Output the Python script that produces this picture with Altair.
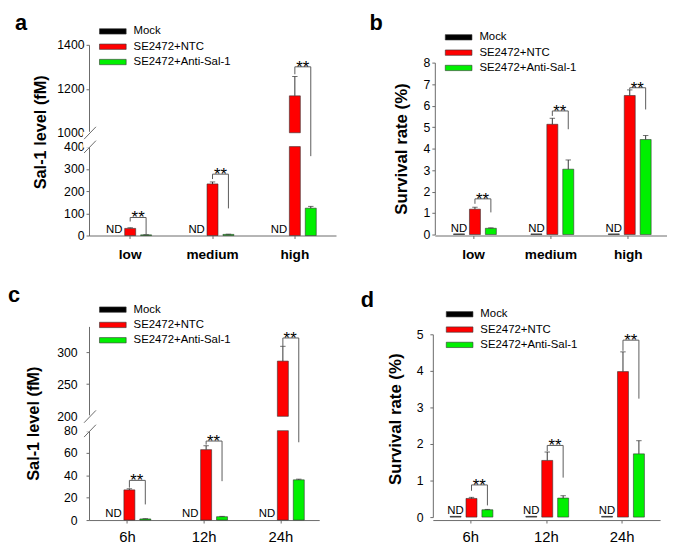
import altair as alt
import pandas as pd

FONT = "Liberation Sans"
AX = "#6a6a6a"

groups = ["Mock", "SE2472+NTC", "SE2472+Anti-Sal-1"]
group_colors = ["#000000", "#FF0000", "#00F000"]

dose_levels = ["low", "medium", "high"]
time_points = ["6h", "12h", "24h"]

# Panel a: Sal-1 level (fM) by dose
a_mock = [0, 0, 0]
a_ntc = [32, 232, 1168]
a_ntc_err = [3, 9, 88]
a_anti = [3, 5, 123]
a_anti_err = [0.5, 1, 8]
a_br_top = [81, 276, 1300]
a_br_left = [63, 254, 1266]
a_br_right = [4, 122, 357]
a_ticks = [0, 100, 200, 300, 400, 1000, 1200, 1400]

# Panel b: survival rate (%) by dose
b_mock = [0.03, 0.03, 0.03]
b_ntc = [1.18, 5.13, 6.47]
b_ntc_err = [0.09, 0.28, 0.26]
b_anti = [0.29, 3.04, 4.42]
b_anti_err = [0.02, 0.43, 0.19]
b_br_top = [1.66, 5.75, 6.83]
b_br_left = [1.43, 5.52, 6.74]
b_br_right = [1.03, 4.9, 5.82]
b_ticks = [0, 1, 2, 3, 4, 5, 6, 7, 8]

# Panel c: Sal-1 level (fM) by time
c_mock = [0, 0, 0]
c_ntc = [27, 63, 286]
c_ntc_err = [1, 3.5, 23]
c_anti = [1, 3, 36]
c_anti_err = [0.2, 0.3, 0.6]
c_br_top = [35.5, 70.7, 322]
c_br_left = [29, 67.5, 309]
c_br_right = [14, 34.8, 69.6]
c_ticks = [0, 20, 40, 60, 80, 200, 250, 300]

# Panel d: survival rate (%) by time
d_mock = [0.02, 0.02, 0.02]
d_ntc = [0.51, 1.55, 3.98]
d_ntc_err = [0.03, 0.23, 0.54]
d_anti = [0.2, 0.52, 1.73]
d_anti_err = [0.01, 0.065, 0.36]
d_br_top = [0.88, 1.96, 4.84]
d_br_left = [0.72, 1.8, 4.55]
d_br_right = [0.32, 1.08, 3.24]
d_ticks = [0, 1, 2, 3, 4, 5]

SYM_SIDE = 10.8  # sqrt(symbol size)


def make_panel(letter, letter_xy, cats, mock, ntc, ntc_err, anti, anti_err, br_top, br_left, br_right,
               ytitle, ytitle_size, ydomain, yrange, yticks, width, height, brk, leg_x, leg_y,
               xbold, pad_in, sub_pad, label_pad, title_pad, title_y):
    rows = []
    for i, c in enumerate(cats):
        for g, v, e in ((groups[0], mock[i], 0.0), (groups[1], ntc[i], ntc_err[i]),
                        (groups[2], anti[i], anti_err[i])):
            rows.append({"cat": c, "group": g, "value": v, "err": e})
    df = pd.DataFrame(rows)
    br_rows = []
    for i, c in enumerate(cats):
        br_rows += [
            {"cat": c, "group": groups[1], "v": br_left[i], "k": 0},
            {"cat": c, "group": groups[1], "v": br_top[i], "k": 1},
            {"cat": c, "group": groups[2], "v": br_top[i], "k": 2},
            {"cat": c, "group": groups[2], "v": br_right[i], "k": 3},
        ]
    bdf = pd.DataFrame(br_rows)
    sdf = pd.DataFrame({"cat": cats, "group": groups[1], "top": br_top})
    ndf = pd.DataFrame({"cat": cats, "group": groups[0]})

    step = width / 3.0
    sub_step = step * (1 - pad_in) / 3.0

    xs = alt.Scale(domain=cats, paddingInner=pad_in, paddingOuter=pad_in / 2)
    xax = alt.Axis(title=None, labelAngle=0, labelFontSize=13.8 if xbold else 15,
                  labelFontWeight="bold" if xbold else "normal", labelColor="black",
                  labelPadding=9 if xbold else 7, tickSize=3, domainColor=AX, tickColor=AX,
                  labelFont=FONT)
    X = alt.X("cat:N", scale=xs, axis=xax)
    XO = alt.XOffset("group:N", scale=alt.Scale(domain=groups, paddingInner=sub_pad,
                                                  paddingOuter=sub_pad / 2))
    ys = alt.Scale(domain=ydomain, range=yrange, nice=False)
    yax_kw = dict(title=ytitle, values=yticks, tickCount=40, format="d", grid=False, labelFontSize=12.4,
                  labelColor="black", labelOverlap=False, labelBound=False, labelFlush=False,
                  tickSize=3, labelPadding=label_pad, domainColor=AX, tickColor=AX,
                  titleFontSize=ytitle_size, titleFontWeight="bold", titleColor="black",
                  titlePadding=title_pad, labelFont=FONT, titleFont=FONT)
    if title_y is not None:
        yax_kw["titleY"] = title_y
    yax = alt.Axis(**yax_kw)

    def Y(f):
        return alt.Y(f"{f}:Q", scale=ys, axis=yax)

    legend = alt.Legend(title=None, orient="none", legendX=leg_x + 8.1, legendY=leg_y,
                        symbolType="M-2.5,-0.5H2.5V0.5H-2.5Z", symbolSize=SYM_SIDE ** 2,
                        symbolStrokeColor="#333333", symbolStrokeWidth=0.6,
                        labelFontSize=11.5, labelFont=FONT, labelColor="black",
                        labelOffset=15, rowPadding=3.5, padding=0, symbolOpacity=1)
    color = alt.Color("group:N", scale=alt.Scale(domain=groups, range=group_colors), legend=legend)

    lo_expr = f"min(datum.value, {brk[0]})" if brk else "datum.value"
    bars = (alt.Chart(df).transform_filter("datum.value > 0")
            .transform_calculate(lo=lo_expr)
            .mark_bar(stroke="#333333", strokeWidth=0.6, opacity=1)
            .encode(x=X, xOffset=XO, y=Y("lo"), y2=alt.datum(0), color=color))
    layers = [bars]
    if brk:
        up = (alt.Chart(df).transform_filter(f"datum.value > {brk[1]}")
              .mark_bar(stroke="#333333", strokeWidth=0.6, opacity=1)
              .encode(x=X, xOffset=XO, y=Y("value"), y2=alt.datum(brk[1]), color=color))
        layers.append(up)

    eb = alt.Chart(df).transform_filter("datum.err > 0").transform_calculate(hi="datum.value + datum.err")
    err_rule = eb.mark_rule(color="#333333", strokeWidth=1).encode(x=X, xOffset=XO, y=Y("value"), y2="hi:Q")
    cap = eb.mark_tick(color="#333333", thickness=1, size=5.5).encode(x=X, xOffset=XO, y=Y("hi"))
    br_line = alt.Chart(bdf).mark_line(color="#5a5a5a", strokeWidth=1).encode(
        x=X, xOffset=XO, y=Y("v"), detail="cat:N", order="k:Q")
    stars = alt.Chart(sdf).mark_text(text="**", fontSize=17, fontWeight="normal", baseline="alphabetic",
                                     dx=sub_step / 2, dy=6, color="black", font=FONT).encode(
        x=X, xOffset=XO, y=Y("top"))
    nd = alt.Chart(ndf).mark_text(text="ND", fontSize=11.5, baseline="alphabetic", dy=-3,
                                  color="black", font=FONT).encode(x=X, xOffset=XO, y=alt.datum(0))
    layers += [err_rule, cap, br_line, stars, nd]
    if brk:
        mdf = pd.DataFrame({"lo": [brk[0]], "hi": [brk[1]]})
        mask = alt.Chart(mdf).mark_rect(color="white", yOffset=1, y2Offset=-1).encode(
            x=alt.value(-6), x2=alt.value(3), y=Y("lo"), y2="hi:Q")
        sdf2 = pd.DataFrame({"b": list(brk)})
        slashes = alt.Chart(sdf2).mark_rule(color=AX, strokeWidth=1, yOffset=6.5, y2Offset=-6).encode(
            x=alt.value(-5), x2=alt.value(7), y=Y("b"), y2="b:Q")
        layers += [mask, slashes]

    ldf = pd.DataFrame({"t": [letter]})
    lab = alt.Chart(ldf).mark_text(fontSize=22, fontWeight="bold", align="left", baseline="alphabetic",
                                   color="black", font=FONT).encode(
        text="t:N", x=alt.value(letter_xy[0]), y=alt.value(letter_xy[1]))
    layers.append(lab)

    return alt.layer(*layers).properties(width=width, height=height)


pa = make_panel("a", (-75, -15.4), dose_levels, a_mock, a_ntc, a_ntc_err, a_anti, a_anti_err, a_br_top,
                a_br_left, a_br_right, "Sal-1 level (fM)", 16.5, [0, 400, 1000, 1400], [193, 103, 89, 0],
                a_ticks, 250, 193, (400, 1000), 10, -19.6, True, 0.42, 0.31, 2, 8.5, 88)
pb = make_panel("b", (-66, -15.4), dose_levels, b_mock, b_ntc, b_ntc_err, b_anti, b_anti_err, b_br_top,
                b_br_left, b_br_right, "Survival rate (%)", 17, [0, 8], [192, 18], b_ticks,
                235, 193, None, 10, -13.6, True, 0.42, 0.33, 2, 13, None)
pc = make_panel("c", (-82, -25), time_points, c_mock, c_ntc, c_ntc_err, c_anti, c_anti_err, c_br_top,
                c_br_left, c_br_right, "Sal-1 level (fM)", 16.5, [0, 80, 200, 340], [196, 105.5, 91, 0],
                c_ticks, 233, 196, (80, 200), 10, -23, False, 0.43, 0.36, 9, 15, None)
pd_ = make_panel("d", (-73, -20), time_points, d_mock, d_ntc, d_ntc_err, d_anti, d_anti_err, d_br_top,
                 d_br_left, d_br_right, "Survival rate (%)", 17, [0, 5], [193, 8], d_ticks,
                 230, 196, None, 13, -18.3, False, 0.39, 0.36, 7, 12, 93.5)

row1 = alt.hconcat(pa, pb, spacing=34).resolve_scale(color="independent").resolve_legend(color="independent")
row2 = alt.hconcat(pc, pd_, spacing=42).resolve_scale(color="independent").resolve_legend(color="independent")
chart = (alt.vconcat(row1, row2, spacing=23)
         .resolve_scale(color="independent").resolve_legend(color="independent")
         .properties(padding=0)
         .configure(font=FONT)
         .configure_view(stroke=None))

chart.save("out.html", embed_options={"renderer": "svg", "actions": False})
